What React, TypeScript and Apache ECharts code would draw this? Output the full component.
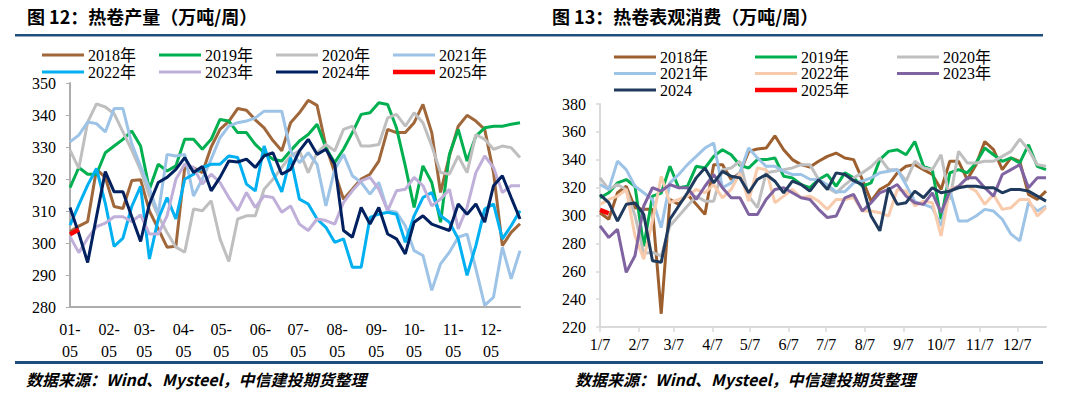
import React, { useEffect, useRef } from 'react';
import * as echarts from 'echarts';

// ---------- shared tick data ----------
const TICK_DAYS = [0, 31, 59, 90, 120, 151, 181, 212, 243, 273, 304, 334];
const LEFT_TICK_LABELS = ['01-\n05', '02-\n05', '03-\n05', '04-\n05', '05-\n05', '06-\n05', '07-\n05', '08-\n05', '09-\n05', '10-\n05', '11-\n05', '12-\n05'];
const RIGHT_TICK_LABELS = ['1/7', '2/7', '3/7', '4/7', '5/7', '6/7', '7/7', '8/7', '9/7', '10/7', '11/7', '12/7'];
const WEEK_STEP_DAYS = 7;

// ---------- left chart: 热卷产量 ----------
const L_NAMES = ['2018年', '2019年', '2020年', '2021年', '2022年', '2023年', '2024年', '2025年'];
const L_COLORS = ['#A0673A', '#00B050', '#BFBFBF', '#9DC3E6', '#00B0F0', '#BFAFD9', '#002060', '#FF0000'];
const L2018 = [303.5, 305.3, 306.7, 323, 320.5, 311.4, 310.8, 319.5, 319.8, 310, 304.4, 298.7, 299, 323.5, 323.5, 322, 330, 335.5, 338, 342, 341.5, 338.5, 336,
  332, 328.8, 337.6, 340.7, 344.6, 343, 330.3, 322, 313.7, 316.8, 320, 321.5, 325.6, 335.5, 334.5, 334.5, 337.6, 343.3, 334.5, 315.8, 327.2, 336.5, 339.9, 338.1, 335.5, 322, 299.2, 303.3, 306];
const L2019 = [317.3, 323.6, 321.5, 321.5, 328.2, 330.3, 332.4, 335, 330.3, 316.8, 324.6, 322.5, 324.1, 332.4, 332.4, 329.3, 332.4, 338.6, 338.1, 334.5, 334.5, 330.8, 328.2,
  326.2, 325.6, 328.8, 331.9, 333.9, 337.1, 329.8, 325.1, 329.3, 334.5, 340.2, 340.7, 343.8, 343.3, 336, 324.1, 311.1, 324.1, 318.9, 306.5, 327.7, 335.5, 325.6, 333.4, 336, 336.5, 336.5, 337.1, 337.6];
const L2020 = [329, 323.3, 337.8, 343.5, 342.5, 340.4, 334.7, 329, 322.8, 314.7, 308.5, 303.3, 298.7, 297.1, 310.6, 310.1, 313.2, 301.3, 294.2, 307.5, 308.5, 308.5, 316.8,
  319.9, 323.6, 327.2, 328.8, 322, 328.2, 330.8, 328.8, 335.5, 336.5, 330.3, 330.3, 330.8, 339.1, 340.2, 336.5, 340.7, 337.6, 330.3, 322, 321.5, 327.2, 322, 333.9, 332.4, 329.3, 330.3, 329.8, 326.7];
const L2021 = [331.6, 333.7, 337.8, 337.3, 334.7, 342, 342, 331, 324, 317, 309, 327.7, 327.2, 327.7, 314.7, 320, 326.2, 332.9, 336.5, 337.6, 338.1, 339.1, 341.2,
  341.2, 341.2, 328.8, 325.1, 328.2, 324.6, 311.6, 323, 327.7, 321, 318.9, 315.3, 318.9, 310.1, 309.6, 305.4, 297.6, 296.1, 285.2, 293.5, 297.1, 301.8, 302.8, 291.9, 280.5, 283.1, 298.7, 288.8, 297.6];
const L2022 = [305.6, 311.9, 318.1, 323.3, 312.4, 298.9, 301.5, 311.4, 317.7, 295, 307.5, 314.2, 307.5, 319.9, 321.5, 323.6, 324.6, 324.6, 327.2, 326.7, 318.4, 316.3, 330.3,
  322, 316, 326.7, 313.7, 312.2, 307.5, 304.9, 300.2, 301.3, 292.4, 292.4, 308, 309, 309.6, 309, 300.2, 308.5, 314.2, 315.8, 308.5, 306.5, 301.3, 289.9, 299.2, 310.6, 312.2, 301.3, 305.4, 310.1];
const L2023 = [302, 297, 301.5, 305.1, 306.2, 308.2, 308.2, 306.7, 308.8, 302.8, 302.8, 308.5, 319.9, 324.6, 323.6, 318.4, 321.5, 318.9, 314.2, 310.1, 315.8, 311.1, 314.7,
  314.2, 309.6, 311.6, 305.9, 303.9, 307.5, 307, 305.9, 312.7, 316.3, 319.4, 320.5, 316.8, 310.1, 316.3, 316.8, 320.5, 317.9, 311.6, 313.7, 316.8, 304.4, 311.1, 322, 327.2, 323.6, 315.8, 317.9, 317.9];
const L2024 = [311.1, 303, 293.9, 308.2, 322.3, 316, 316, 308.2, 300.5, 312.2, 318.9, 320.5, 323, 326.7, 322, 323.9, 316.3, 320.5, 325.6, 325.3, 326.2, 323.6, 327.2,
  328.2, 321.5, 323, 328.8, 332.4, 327.7, 329.3, 324.6, 303.9, 301.8, 311.1, 305.9, 311.1, 302.8, 301.3, 296.6, 306.5, 308.5, 305.9, 304.9, 303.9, 312.2, 309, 312.2, 306.5, 317.9, 321, 314.2, 307.5];
const L2025 = [302.7, 304.2];

// ---------- right chart: 热卷表观消费 ----------
const R_NAMES = ['2018年', '2019年', '2020年', '2021年', '2022年', '2023年', '2024', '2025年'];
const R_COLORS = ['#9E5F2E', '#00B050', '#BFBFBF', '#9DC3E6', '#F8CBAD', '#8064A2', '#1F3A5C', '#FF0000'];
const R2018 = [302, 297.3, 316.3, 321, 305.6, 304.4, 304.4, 229.5, 311.5, 308, 315.1, 308, 300.8, 336.5, 336.5, 325.8, 330.6, 346, 347.7, 348.4, 357.2, 347.2, 340.1, 336.5, 334.8,
  338.9, 342.4, 344.8, 341.3, 340.1, 325.8, 310.3, 318.7, 322.2, 330.6, 335.3, 336.5, 332.9, 329.4, 318.7, 338.9, 338.9, 325.8, 336.5, 353.1, 347.2, 332.9, 341.3, 338.9, 315.1, 311.5, 317.5];
const R2019 = [312.7, 316.3, 323.4, 325.8, 321, 278, 313.9, 316, 335.3, 319.9, 321, 335.3, 334.1, 342.4, 347.2, 343.6, 336, 334.1, 340.1, 340.1, 341.3, 328.2, 327, 322.2, 320,
  325.8, 329.4, 321, 330.6, 327, 321, 323.4, 340.1, 346, 347.2, 343.6, 353.1, 335.3, 332.9, 297.3, 330.6, 332.9, 330.6, 337.7, 348.4, 343.6, 338.9, 341.3, 337.7, 350.8, 335.3, 332.9];
const R2020 = [327, 318.7, 322.2, 318.7, 300, 273, 273.5, 271, 292.5, 299.6, 306.8, 313.9, 310.3, 310.3, 332.9, 334.1, 338.9, 313.9, 305.6, 330.6, 331.7, 332.9, 334.1, 336.5, 336.5,
  325.8, 319.9, 316.3, 322, 327, 330.6, 335, 341.3, 332.9, 332.9, 324.6, 338.9, 334.1, 332.9, 343.6, 311.5, 346, 337.7, 337.7, 338.9, 338.9, 342.4, 346, 354.8, 347.2, 336.5, 335.3];
const R2021 = [322.2, 318.7, 339, 332.9, 321, 316.3, 311.5, 291.3, 323.4, 329.4, 336.5, 342.4, 348.4, 352, 319.9, 323.4, 330.6, 348.4, 341.3, 335.3, 335.3, 331.7, 329.4, 329.4, 326,
  325.8, 322, 317, 317, 323.4, 324.6, 327, 330.6, 331.7, 332.9, 322, 310, 308, 305.6, 292.5, 318, 296.1, 296.1, 299.6, 304.4, 303.2, 297.3, 286.6, 281.8, 309.2, 303.2, 306.8];
const R2022 = [308, 311.5, 313.9, 318.7, 285.4, 268.7, 296.1, 328.2, 309.2, 311.5, 313.9, 318.7, 316.3, 322.2, 312.7, 318.7, 330.6, 310.3, 334.1, 332.9, 309.2, 313.9, 318.7, 312.7, 313.9,
  310.3, 304.4, 311.5, 311.5, 313, 303.2, 303.2, 302, 299.6, 318.7, 317.5, 306.8, 310.3, 309.2, 285.4, 318.7, 321, 321, 317.5, 308, 315.1, 304.4, 305.6, 311.5, 311.5, 299.6, 305.6];
const R2023 = [292.5, 284.2, 290.1, 259.2, 271.1, 306.8, 319.9, 317.5, 322.2, 319.9, 319.9, 311.5, 321, 329.4, 319.9, 312.7, 312.7, 300.8, 300.8, 311.5, 318.7, 319.9, 316.3, 312.7, 311.5,
  304.4, 298.5, 299.6, 312.7, 315.1, 303.2, 309.2, 316.3, 318.7, 322.2, 313.9, 309.2, 308, 316.3, 302, 317.5, 321, 327, 327, 319.9, 313.9, 329.4, 332.9, 336.5, 319.9, 327, 327];
const R2024 = [315, 309.2, 296, 308, 309, 300.8, 267.5, 266.4, 297.3, 306.8, 316.3, 327, 334.1, 323.4, 331.7, 328.2, 327, 316.3, 325.8, 329.4, 324.6, 316.3, 324.6, 322.2, 317.5,
  325.8, 318.7, 330.6, 329.4, 325, 322.2, 299.6, 289, 319.9, 308, 309.2, 317.5, 312.7, 319.9, 316.3, 317.5, 319.9, 321, 321, 319.9, 319.9, 316.3, 318.7, 318.7, 317.5, 313.9, 310.3];
const R2025 = [304, 301.5];

const SERIF = '"Liberation Serif", "Noto Sans CJK SC", serif';
const RULE = '#1F4E7E';

function toPairs(vals: number[]) {
  return vals.map((v, i) => [i * WEEK_STEP_DAYS, v]);
}

function makeLegends(names: string[], cols: number[], rows: number[]) {
  return names.map((n, i) => ({
    data: [n],
    left: cols[i % cols.length],
    top: rows[Math.floor(i / cols.length)],
    icon: 'rect',
    itemWidth: 42,
    itemHeight: n.startsWith('2025') ? 4.5 : 3,
    itemGap: 0,
    padding: 0,
    selectedMode: false,
    textStyle: { fontFamily: SERIF, fontSize: 16, color: '#000', lineHeight: 16, padding: [0, 0, 0, -1] },
  }));
}

function makeSeries(names: string[], colors: string[], data: number[][]) {
  return names.map((n, i) => ({
    name: n,
    type: 'line',
    data: toPairs(data[i]),
    symbol: 'none',
    color: colors[i],
    lineStyle: { width: n.startsWith('2025') ? 4.5 : 3, color: colors[i] },
    z: 2 + i,
    animation: false,
  }));
}

function panelGraphics(title: string, titleLeft: number, ruleX: number, ruleW: number, srcLeft: number) {
  return [
    { type: 'text', left: titleLeft, top: 7, style: { text: title, font: 'bold 18px "Noto Sans CJK SC", sans-serif', fill: '#000' } },
    { type: 'rect', shape: { x: ruleX, y: 34, width: ruleW, height: 2.5 }, style: { fill: RULE } },
    { type: 'rect', shape: { x: ruleX, y: 361, width: ruleW, height: 3 }, style: { fill: RULE } },
    { type: 'text', left: srcLeft, top: 371, style: { text: '数据来源：Wind、Mysteel，中信建投期货整理', font: 'italic bold 16px "Noto Sans CJK SC", sans-serif', fill: '#000' } },
  ];
}

const leftOption = {
  animation: false,
  backgroundColor: '#fff',
  grid: { left: 70, right: 20, top: 83, bottom: 90 },
  legend: makeLegends(L_NAMES, [42, 159, 276, 393], [47, 64]),
  xAxis: {
    type: 'value', min: 0, max: 357,
    axisLine: { onZero: false, lineStyle: { color: '#ADADAD', width: 2 } },
    axisTick: { show: false },
    splitLine: { show: false },
    axisLabel: {
      customValues: TICK_DAYS,
      formatter: (v: number) => LEFT_TICK_LABELS[TICK_DAYS.indexOf(v)] ?? '',
      fontFamily: SERIF, fontSize: 16, color: '#000', lineHeight: 22, margin: 11,
    },
  },
  yAxis: {
    type: 'value', min: 280, max: 350, interval: 10,
    axisLine: { show: true, lineStyle: { color: '#ADADAD', width: 2 } },
    axisTick: { show: true, length: 4, lineStyle: { color: '#ADADAD' } },
    splitLine: { show: false },
    axisLabel: { fontFamily: SERIF, fontSize: 16, color: '#000', margin: 14 },
  },
  series: makeSeries(L_NAMES, L_COLORS, [L2018, L2019, L2020, L2021, L2022, L2023, L2024, L2025]),
  graphic: panelGraphics('图 12：热卷产量（万吨/周）', 27, 15, 525, 26),
};

const rightOption = {
  animation: false,
  backgroundColor: '#fff',
  grid: { left: 60, right: 34, top: 104, bottom: 70 },
  legend: makeLegends(R_NAMES, [74, 215, 357], [49, 65.5, 82]),
  xAxis: {
    type: 'value', min: 0, max: 357,
    axisLine: { onZero: false, lineStyle: { color: '#D9D9D9', width: 2 } },
    axisTick: { show: true, customValues: TICK_DAYS, length: 5, lineStyle: { color: '#D9D9D9', width: 1.5 } },
    splitLine: { show: false },
    axisLabel: {
      customValues: TICK_DAYS,
      formatter: (v: number) => RIGHT_TICK_LABELS[TICK_DAYS.indexOf(v)] ?? '',
      fontFamily: SERIF, fontSize: 16, color: '#000', margin: 9,
    },
  },
  yAxis: {
    type: 'value', min: 220, max: 380, interval: 20,
    axisLine: { show: true, lineStyle: { color: '#D9D9D9', width: 2 } },
    axisTick: { show: true, length: 4, lineStyle: { color: '#D9D9D9', width: 1.5 } },
    splitLine: { show: false },
    axisLabel: { fontFamily: SERIF, fontSize: 16, color: '#000', margin: 14 },
  },
  series: makeSeries(R_NAMES, R_COLORS, [R2018, R2019, R2020, R2021, R2022, R2023, R2024, R2025]),
  graphic: panelGraphics('图 13：热卷表观消费（万吨/周）', 12, 0, 503, 35),
};

function ChartBox({ option, left }: { option: any; left: number }) {
  const ref = useRef<HTMLDivElement>(null);
  useEffect(() => {
    const chart = echarts.init(ref.current!, null, { renderer: 'svg' });
    chart.setOption(option);
    return () => chart.dispose();
  }, [option]);
  return <div ref={ref} style={{ position: 'absolute', left, top: 0, width: 540, height: 397 }} />;
}

export default function App() {
  return (
    <div style={{ position: 'fixed', left: 0, top: 0, width: 1080, height: 397, background: '#fff' }}>
      <ChartBox option={leftOption} left={0} />
      <ChartBox option={rightOption} left={540} />
    </div>
  );
}
